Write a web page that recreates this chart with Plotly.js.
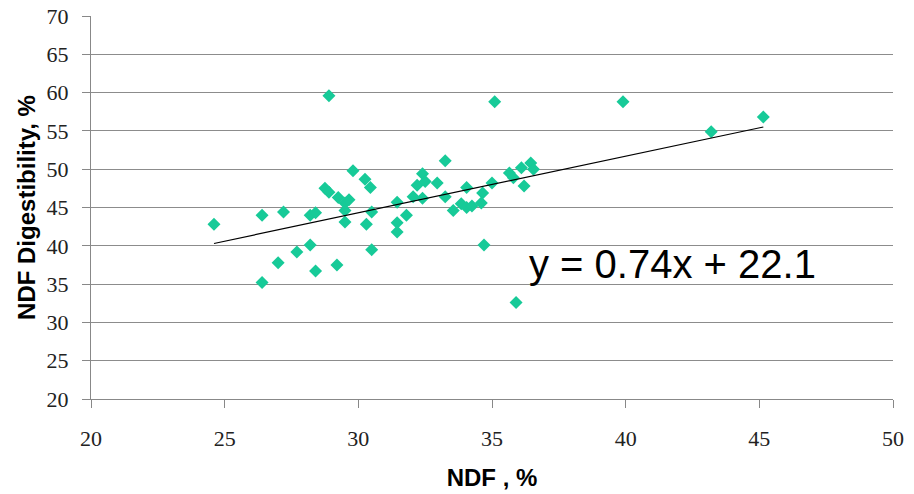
<!DOCTYPE html>
<html>
<head>
<meta charset="utf-8">
<script src="https://cdn.plot.ly/plotly-3.0.1.min.js"></script>
<style>html,body{margin:0;padding:0;background:#fff;}#chart{width:914px;height:494px;}</style>
</head>
<body>
<div id="chart"></div>
<script>
const ndf = [28.9, 24.6, 26.4, 27.2, 26.4, 27.0, 27.7, 28.2, 28.4, 29.2, 28.2, 28.4, 28.75, 28.9, 29.25, 29.5, 29.65, 29.5, 29.5, 29.8, 30.25, 30.45, 30.3, 30.5, 30.5,
  35.1, 31.45, 31.45, 31.45, 31.8, 32.05, 32.2, 32.4, 32.5, 32.4, 32.95, 33.25, 33.25, 33.55, 33.85, 34.05, 34.25, 34.05, 34.65, 34.6, 34.7, 35.0, 35.65, 35.8, 36.1, 36.2, 36.45, 36.55, 35.9,
  39.9, 43.2, 45.15];
const ndfd = [59.6, 42.8, 44.0, 44.4, 35.2, 37.8, 39.2, 40.1, 36.7, 37.5, 44.0, 44.3, 47.5, 47.0, 46.3, 45.6, 46.0, 44.6, 43.1, 49.8, 48.7, 47.6, 42.8, 44.4, 39.5,
  58.8, 45.7, 43.0, 41.8, 44.0, 46.4, 47.9, 49.4, 48.4, 46.2, 48.2, 51.1, 46.4, 44.6, 45.5, 45.0, 45.2, 47.6, 46.9, 45.6, 40.1, 48.2, 49.5, 48.9, 50.2, 47.8, 50.8, 50.0, 32.6,
  58.8, 54.9, 56.8];
const slope = 0.74;
const intercept = 22.1;
const equationText = 'y = 0.74x + 22.1';
const xTicks = [20, 25, 30, 35, 40, 45, 50];
const yTicks = [20, 25, 30, 35, 40, 45, 50, 55, 60, 65, 70];

const xmin = Math.min(...ndf), xmax = Math.max(...ndf);
const trendX = [xmin, xmax];
const trendY = trendX.map(v => slope * v + intercept);

const data = [
  {x: ndf, y: ndfd, type: 'scatter', mode: 'markers',
   marker: {symbol: 'diamond', size: 10, color: '#17CA98'}, hoverinfo: 'x+y'},
  {x: trendX, y: trendY, type: 'scatter', mode: 'lines',
   line: {color: '#000', width: 1.2}, hoverinfo: 'skip'}
];

const layout = {
  width: 914, height: 494,
  margin: {l: 91, r: 21, t: 16, b: 95},
  paper_bgcolor: '#fff', plot_bgcolor: '#fff',
  showlegend: false,
  xaxis: {
    range: [20, 50], tickvals: xTicks, ticktext: xTicks.map(String),
    showgrid: false, zeroline: false,
    showline: true, linecolor: '#888', linewidth: 1,
    ticks: 'outside', ticklen: 8, tickcolor: '#888',
    tickfont: {family: 'Liberation Serif', size: 22, color: '#222'},
    ticklabelstandoff: 12,
    title: {text: '<b>NDF , %</b>', font: {family: 'Liberation Sans', size: 24, color: '#000'}, standoff: 18}
  },
  yaxis: {
    range: [20, 70], tickvals: yTicks, ticktext: yTicks.map(String),
    showgrid: true, gridcolor: '#8c8c8c', gridwidth: 1,
    zeroline: false,
    showline: true, linecolor: '#888', linewidth: 1,
    ticks: 'outside', ticklen: 8, tickcolor: '#888',
    tickfont: {family: 'Liberation Serif', size: 22, color: '#222'},
    ticklabelstandoff: 9,
    title: {text: '<b>NDF Digestibility, %</b>', font: {family: 'Liberation Sans', size: 24, color: '#000'}, standoff: 4}
  },
  annotations: [{
    x: 36.3, y: 37.6, xref: 'x', yref: 'y', xanchor: 'left', yanchor: 'middle',
    text: equationText, showarrow: false,
    font: {family: 'Liberation Sans', size: 40, color: '#000'}
  }]
};

Plotly.newPlot('chart', data, layout, {staticPlot: true, displayModeBar: false});
</script>
</body>
</html>
